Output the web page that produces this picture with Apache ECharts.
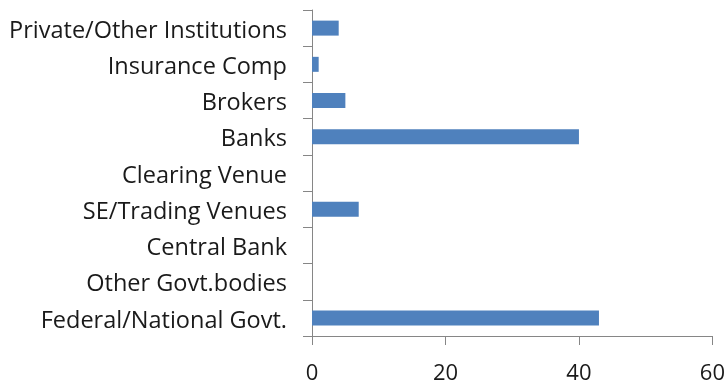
<!DOCTYPE html>
<html>
<head>
<meta charset="utf-8">
<script src="https://cdn.jsdelivr.net/npm/echarts@6/dist/echarts.min.js"></script>
<style>
  html, body { margin: 0; padding: 0; background: #ffffff; }
  #chart { width: 728px; height: 385px; }
</style>
</head>
<body>
<div id="chart"></div>
<script>
// Institution types, listed bottom to top
const categories = [
  'Federal/National Govt.',
  'Other Govt.bodies',
  'Central Bank',
  'SE/Trading Venues',
  'Clearing Venue',
  'Banks',
  'Brokers',
  'Insurance Comp',
  'Private/Other Institutions'
];
const values = [43, 0, 0, 7, 0, 40, 5, 1, 4];
const xTicks = [0, 20, 40, 60];

const axisColor = '#868686';
const font = '"Open Sans", sans-serif';

const chart = echarts.init(document.getElementById('chart'), null, { renderer: 'canvas' });
chart.setOption({
  animation: false,
  backgroundColor: '#ffffff',
  grid: { left: 312, right: 15, top: 10, bottom: 43, containLabel: false },
  xAxis: {
    type: 'value',
    min: xTicks[0],
    max: xTicks[xTicks.length - 1],
    interval: xTicks[1] - xTicks[0],
    axisLine: { show: true, lineStyle: { color: axisColor, width: 1 } },
    axisTick: { show: true, length: 9, lineStyle: { color: axisColor } },
    splitLine: { show: false },
    axisLabel: { color: '#1a1a1a', fontSize: 22, fontFamily: font, margin: 27 }
  },
  yAxis: {
    type: 'category',
    data: categories,
    axisLine: { show: true, lineStyle: { color: axisColor, width: 1 } },
    axisTick: { show: true, length: 9, alignWithLabel: false, lineStyle: { color: axisColor } },
    axisLabel: {
      margin: 25,
      formatter: (v) => '{t|' + v + '}',
      rich: {
        t: { color: '#1a1a1a', fontSize: 23.5, fontFamily: font, padding: [6, 0, 0, 0] }
      }
    },
    splitLine: { show: false }
  },
  series: [{
    type: 'bar',
    data: values,
    barWidth: 15,
    itemStyle: { color: '#4F81BD' }
  }]
});
</script>
</body>
</html>
